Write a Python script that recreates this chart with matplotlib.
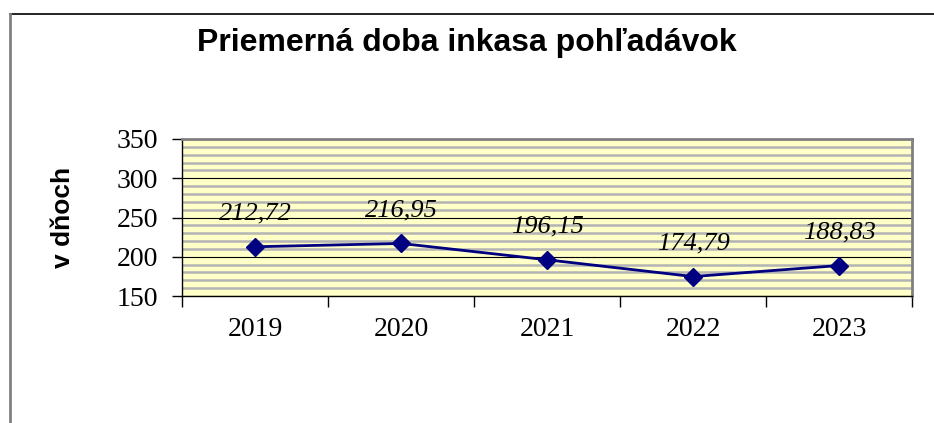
import matplotlib.pyplot as plt
from matplotlib.lines import Line2D
from matplotlib.ticker import MultipleLocator

roky = ['2019', '2020', '2021', '2022', '2023']
dni = [212.72, 216.95, 196.15, 174.79, 188.83]
popisky = ['212,72', '216,95', '196,15', '174,79', '188,83']

fig = plt.figure(figsize=(9.34, 4.23), dpi=100)
ax = fig.add_axes([0.1949, 0.3002, 0.7816, 0.3712])

# okraj grafu (horna cierna, lava siva)
fig.add_artist(Line2D([10 / 934, 1], [1 - 14 / 423] * 2, color='black', lw=1.2))
fig.add_artist(Line2D([10 / 934] * 2, [0, 1 - 14 / 423], color='#808080', lw=2))

ax.set_facecolor('#FFFFC8')
x = list(range(len(roky)))
ax.plot(x, dni, color='#000080', lw=2, marker='D', ms=9, zorder=3)

for xi, yi, t in zip(x, dni, popisky):
    ax.annotate(t, (xi, yi), xytext=(0, 24), textcoords='offset points',
                ha='center', va='center', fontsize=19, style='italic',
                family='Liberation Serif')

ax.set_xlim(-0.5, 4.5)
ax.set_ylim(150, 350)
ax.yaxis.set_major_locator(MultipleLocator(50))
ax.yaxis.set_minor_locator(MultipleLocator(10))
ax.grid(which='major', axis='y', color='black', lw=0.8, zorder=1)
ax.grid(which='minor', axis='y', color='#B4B4B4', lw=1.8, zorder=0)
ax.set_axisbelow(True)

ax.set_xticks([i - 0.5 for i in range(len(roky) + 1)])
ax.set_xticklabels([])
ax.set_xticks(x, minor=True)
ax.set_xticklabels(roky, minor=True, fontsize=20, family='Liberation Serif')
ax.tick_params(axis='x', which='major', length=8, width=1, color='black', direction='out')
ax.tick_params(axis='x', which='minor', length=0, pad=15)
ax.tick_params(axis='y', which='major', length=7, width=1, direction='out', labelsize=20, pad=10)
ax.tick_params(axis='y', which='minor', length=0)
for lab in ax.get_yticklabels():
    lab.set_family('Liberation Serif')

for s in ['top', 'right']:
    ax.spines[s].set_color('#808080')
    ax.spines[s].set_linewidth(2)
for s in ['left', 'bottom']:
    ax.spines[s].set_color('black')
    ax.spines[s].set_linewidth(1)

ax.set_ylabel('v dňoch', fontsize=19, fontweight='bold', family='Liberation Sans', labelpad=30)
fig.text(0.5, 1 - 43 / 423, 'Priemerná doba inkasa pohľadávok', ha='center', va='center',
         fontsize=23, fontweight='bold', family='Liberation Sans')

fig.savefig('out.png', dpi=100)
